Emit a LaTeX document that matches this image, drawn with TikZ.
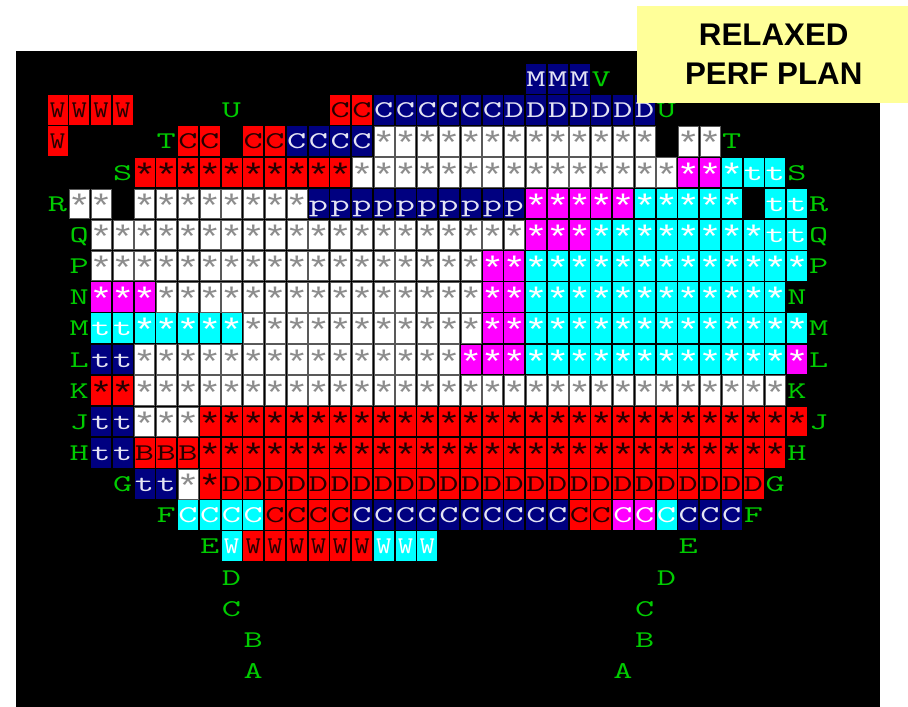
\documentclass[tikz,border=0pt]{standalone}
\usepackage{fontspec}
\usepackage{graphicx}
\setmainfont{Liberation Sans}
\newfontfamily\starfont{Liberation Mono}
\definecolor{navycell}{HTML}{000080}
\definecolor{redfill}{HTML}{FF0000}
\definecolor{cyanfill}{HTML}{00FFFF}
\definecolor{magfill}{HTML}{FF00FF}
\definecolor{labgreen}{HTML}{00CC00}
\definecolor{planyellow}{HTML}{FFFF99}
\definecolor{stargray}{HTML}{8C8C8C}
\definecolor{softwhite}{HTML}{E4E4F4}
\newcommand{\wide}[1]{\makebox[0pt]{\scalebox{1.55}[1]{\fontsize{24}{24}\selectfont\ttfamily #1}}}
\newcommand{\st}{\raisebox{-6pt}{\scalebox{1.05}[1.35]{\starfont *}}}
\newcommand{\dbl}{\scalebox{0.8}[1]{W}}
\tikzset{
	cell/.style={rectangle,inner sep=0pt,minimum width=20pt,minimum height=29.6pt,text height=16pt,text depth=0.6pt},
	whitecell/.style={cell,fill=white,draw=black!65,line width=0.5pt,text=stargray},
	redcell/.style={cell,fill=redfill,text=black!85!red},
	navyfill/.style={cell,fill=navycell,text=softwhite},
	cyancell/.style={cell,fill=cyanfill,text=white},
	magcell/.style={cell,fill=magfill,text=white},
	lab/.style={cell,text=labgreen},
	planbox/.style={rectangle,fill=planyellow,inner sep=0pt,align=center,font=\bfseries\fontsize{31.3}{39}\selectfont}
}
% one run of equal cells in a row
\newcommand{\cellrun}[5]{\foreach \c in {#2,...,#3} \node[#4] (c#1-\c) at (\c,#1) {\wide{#5}};}
\newcommand{\lab}[3]{\node[lab] (lab#1-#2) at (#1,#2) {\wide{#3}};}
\begin{document}
\begin{tikzpicture}[x=21.75pt,y=-31.15pt]
	\useasboundingbox (-2.644,-2.536) rectangle (39.103,20.16);
	\fill[white] (-2.644,-2.536) rectangle (39.103,20.16);
	\fill[black] (-1.908,-0.899) rectangle (37.816,20.16);
	% row V
	\cellrun{0}{22}{24}{navyfill}{M}
	\lab{25}{0}{V}
	% row U
	\cellrun{1}{0}{3}{redcell}{\dbl}
	\lab{8}{1}{U}
	\cellrun{1}{13}{14}{redcell}{C}
	\cellrun{1}{15}{20}{navyfill}{C}
	\cellrun{1}{21}{27}{navyfill}{D}
	\lab{28}{1}{U}
	% row T
	\cellrun{2}{0}{0}{redcell}{\dbl}
	\lab{5}{2}{T}
	\cellrun{2}{6}{7}{redcell}{C}
	\cellrun{2}{9}{10}{redcell}{C}
	\cellrun{2}{11}{14}{navyfill}{C}
	\cellrun{2}{15}{27}{whitecell}{\st}
	\cellrun{2}{29}{30}{whitecell}{\st}
	\lab{31}{2}{T}
	% row S
	\lab{3}{3}{S}
	\cellrun{3}{4}{13}{redcell}{\st}
	\cellrun{3}{14}{28}{whitecell}{\st}
	\cellrun{3}{29}{30}{magcell}{\st}
	\cellrun{3}{31}{31}{cyancell}{\st}
	\cellrun{3}{32}{33}{cyancell}{t}
	\lab{34}{3}{S}
	% row R
	\lab{0}{4}{R}
	\cellrun{4}{1}{2}{whitecell}{\st}
	\cellrun{4}{4}{11}{whitecell}{\st}
	\cellrun{4}{12}{21}{navyfill}{p}
	\cellrun{4}{22}{26}{magcell}{\st}
	\cellrun{4}{27}{31}{cyancell}{\st}
	\cellrun{4}{33}{34}{cyancell}{t}
	\lab{35}{4}{R}
	% row Q
	\lab{1}{5}{Q}
	\cellrun{5}{2}{21}{whitecell}{\st}
	\cellrun{5}{22}{24}{magcell}{\st}
	\cellrun{5}{25}{32}{cyancell}{\st}
	\cellrun{5}{33}{34}{cyancell}{t}
	\lab{35}{5}{Q}
	% row P
	\lab{1}{6}{P}
	\cellrun{6}{2}{19}{whitecell}{\st}
	\cellrun{6}{20}{21}{magcell}{\st}
	\cellrun{6}{22}{34}{cyancell}{\st}
	\lab{35}{6}{P}
	% row N
	\lab{1}{7}{N}
	\cellrun{7}{2}{4}{magcell}{\st}
	\cellrun{7}{5}{19}{whitecell}{\st}
	\cellrun{7}{20}{21}{magcell}{\st}
	\cellrun{7}{22}{33}{cyancell}{\st}
	\lab{34}{7}{N}
	% row M
	\lab{1}{8}{M}
	\cellrun{8}{2}{3}{cyancell}{t}
	\cellrun{8}{4}{8}{cyancell}{\st}
	\cellrun{8}{9}{19}{whitecell}{\st}
	\cellrun{8}{20}{21}{magcell}{\st}
	\cellrun{8}{22}{34}{cyancell}{\st}
	\lab{35}{8}{M}
	% row L
	\lab{1}{9}{L}
	\cellrun{9}{2}{3}{navyfill}{t}
	\cellrun{9}{4}{18}{whitecell}{\st}
	\cellrun{9}{19}{21}{magcell}{\st}
	\cellrun{9}{22}{33}{cyancell}{\st}
	\cellrun{9}{34}{34}{magcell}{\st}
	\lab{35}{9}{L}
	% row K
	\lab{1}{10}{K}
	\cellrun{10}{2}{3}{redcell}{\st}
	\cellrun{10}{4}{33}{whitecell}{\st}
	\lab{34}{10}{K}
	% row J
	\lab{1}{11}{J}
	\cellrun{11}{2}{3}{navyfill}{t}
	\cellrun{11}{4}{6}{whitecell}{\st}
	\cellrun{11}{7}{34}{redcell}{\st}
	\lab{35}{11}{J}
	% row H
	\lab{1}{12}{H}
	\cellrun{12}{2}{3}{navyfill}{t}
	\cellrun{12}{4}{6}{redcell}{B}
	\cellrun{12}{7}{33}{redcell}{\st}
	\lab{34}{12}{H}
	% row G
	\lab{3}{13}{G}
	\cellrun{13}{4}{5}{navyfill}{t}
	\cellrun{13}{6}{6}{whitecell}{\st}
	\cellrun{13}{7}{7}{redcell}{\st}
	\cellrun{13}{8}{32}{redcell}{D}
	\lab{33}{13}{G}
	% row F
	\lab{5}{14}{F}
	\cellrun{14}{6}{9}{cyancell}{C}
	\cellrun{14}{10}{13}{redcell}{C}
	\cellrun{14}{14}{23}{navyfill}{C}
	\cellrun{14}{24}{25}{redcell}{C}
	\cellrun{14}{26}{27}{magcell}{C}
	\cellrun{14}{28}{28}{cyancell}{C}
	\cellrun{14}{29}{31}{navyfill}{C}
	\lab{32}{14}{F}
	% row E
	\lab{7}{15}{E}
	\cellrun{15}{8}{8}{cyancell}{\dbl}
	\cellrun{15}{9}{14}{redcell}{\dbl}
	\cellrun{15}{15}{17}{cyancell}{\dbl}
	\lab{29}{15}{E}
	% bottom letters
	\lab{8}{16}{D}
	\lab{28}{16}{D}
	\lab{8}{17}{C}
	\lab{27}{17}{C}
	\lab{9}{18}{B}
	\lab{27}{18}{B}
	\lab{9}{19}{A}
	\lab{26}{19}{A}
	% title box
	\fill[planyellow] (26.644,-2.343) rectangle (39.103,0.761);
	\node[planbox] (plan) at (32.93,-0.80) {RELAXED\\PERF PLAN};
\end{tikzpicture}
\end{document}
